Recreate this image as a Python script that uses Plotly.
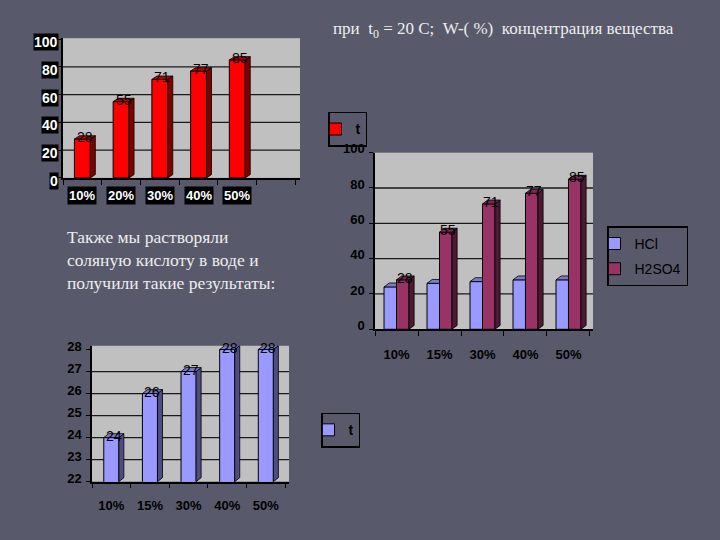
import plotly.graph_objects as go

BG = "#585A6C"
WALL = "#C0C0C0"

# ---------------- data ----------------
# Chart 1 (top left): temperature vs concentration
cats1 = ["10%", "20%", "30%", "40%", "50%"]
vals1 = [28, 55, 71, 77, 85]
yticks1 = [0, 20, 40, 60, 80, 100]

# Chart 2 (right): HCl vs H2SO4
cats2 = ["10%", "15%", "30%", "40%", "50%"]
hcl2 = [24, 26, 27, 28, 28]
h2so4_2 = [28, 55, 71, 77, 85]
yticks2 = [0, 20, 40, 60, 80, 100]

# Chart 3 (bottom): HCl
cats3 = ["10%", "15%", "30%", "40%", "50%"]
vals3 = [24, 26, 27, 28, 28]
yticks3 = [22, 23, 24, 25, 26, 27, 28]

title_text = "при\u00a0\u00a0t<sub>0</sub> = 20 С;\u00a0\u00a0W-( %)\u00a0\u00a0концентрация вещества"
para_text = "Также мы растворяли<br>соляную кислоту в воде и<br>получили такие результаты:"


def faces(vals, base, w, dx, dy, left_off, side=True, clip_top=False):
    sx, sy, tx, ty = [], [], [], []
    for i, v in enumerate(vals):
        xl = i + left_off
        xr = xl + w
        if side:
            sx += [xr, xr + dx, xr + dx, xr, xr, None]
            sy += [base, base + dy, v + dy, v, base, None]
        tr = xr if clip_top else xr + dx
        tx += [xl, xl + dx, tr, xr, xl, None]
        ty += [v, v + dy, v + dy, v, v, None]
    return sx, sy, tx, ty


def poly(x, y, color, xa, ya):
    return go.Scatter(x=x, y=y, fill="toself", fillcolor=color, mode="lines",
                      line=dict(color="black", width=0.8), hoverinfo="skip",
                      showlegend=False, xaxis=xa, yaxis=ya)


fig = go.Figure()
annotations = []
shapes = []

# ---------- Chart 1 ----------
w1, dx1, dy1 = 0.41, 0.13, 2.4
fig.add_trace(go.Bar(x=list(range(len(vals1))), y=vals1, width=w1, name="<b>t</b>",
                     marker=dict(color="#FF0000", line=dict(color="black", width=1)),
                     xaxis="x", yaxis="y", legend="legend"))
sx, sy, tx, ty = faces(vals1, 0, w1, dx1, dy1, -w1 / 2)
fig.add_trace(poly(sx, sy, "#800000", "x", "y"))
fig.add_trace(poly(tx, ty, "#C00000", "x", "y"))
for i, v in enumerate(vals1):
    annotations.append(dict(x=i + dx1 / 2, y=v + dy1 * 0.6, xref="x", yref="y", text=str(v),
                            showarrow=False, yanchor="middle",
                            font=dict(family="Arial", size=14, color="black")))
for t in yticks1:
    annotations.append(dict(x=59 / 720, y=t, xref="paper", yref="y", text="<b>%d</b>" % t,
                            showarrow=False, xanchor="right", yanchor="middle", yshift=-3,
                            bgcolor="black", borderpad=0,
                            font=dict(family="Arial", size=14, color="white")))
for i, c in enumerate(cats1):
    annotations.append(dict(x=i, y=1 - 190 / 540, xref="x", yref="paper", text="<b>%s</b>" % c,
                            showarrow=False, xanchor="center", yanchor="middle",
                            bgcolor="black", borderpad=1,
                            font=dict(family="Arial", size=13, color="white")))

# ---------- Chart 2 ----------
w2, dx2, dy2 = 0.29, 0.12, 2.2
fig.add_trace(go.Bar(x=list(range(len(hcl2))), y=hcl2, width=w2, offset=-w2, name="HCl",
                     marker=dict(color="#9999FF", line=dict(color="black", width=1)),
                     xaxis="x2", yaxis="y2", legend="legend2", legendgroup="a"))
fig.add_trace(go.Bar(x=list(range(len(h2so4_2))), y=h2so4_2, width=w2, offset=0, name="H2SO4",
                     marker=dict(color="#993366", line=dict(color="black", width=1)),
                     xaxis="x2", yaxis="y2", legend="legend2", legendgroup="b"))
_, _, tx, ty = faces(hcl2, 0, w2, dx2, dy2, -w2, side=False, clip_top=True)
fig.add_trace(poly(tx, ty, "#7A7ACC", "x2", "y2"))
sx, sy, tx, ty = faces(h2so4_2, 0, w2, dx2, dy2, 0)
fig.add_trace(poly(sx, sy, "#4D1A33", "x2", "y2"))
fig.add_trace(poly(tx, ty, "#7A2952", "x2", "y2"))
for i, v in enumerate(h2so4_2):
    annotations.append(dict(x=i + w2 / 2 + dx2 / 2, y=v + dy2 * 0.5, xref="x2", yref="y2",
                            text=str(v), showarrow=False, yanchor="middle",
                            font=dict(family="Arial", size=14, color="black")))

# ---------- Chart 3 ----------
w3, dx3, dy3 = 0.39, 0.13, 0.18
fig.add_trace(go.Bar(x=list(range(len(vals3))), y=vals3, width=w3, name="<b>t</b>",
                     marker=dict(color="#9999FF", line=dict(color="black", width=1)),
                     xaxis="x3", yaxis="y3", legend="legend3"))
sx, sy, tx, ty = faces(vals3, yticks3[0], w3, dx3, dy3, -w3 / 2)
fig.add_trace(poly(sx, sy, "#4D4D80", "x3", "y3"))
fig.add_trace(poly(tx, ty, "#7A7ACC", "x3", "y3"))
for i, v in enumerate(vals3):
    annotations.append(dict(x=i + dx3 / 2, y=v + dy3 * 0.3, xref="x3", yref="y3", text=str(v),
                            showarrow=False, yanchor="middle",
                            font=dict(family="Arial", size=14, color="black")))

# gridlines on the chart walls (interior values only)
for ax, ticks in (("", yticks1), ("2", yticks2), ("3", yticks3)):
    for t in ticks[1:-1]:
        shapes.append(dict(type="line", xref="x%s domain" % ax, yref="y%s" % ax,
                           x0=0, x1=1, y0=t, y1=t, layer="below",
                           line=dict(color="#1a1a1a", width=1.3)))

# text on the slide
annotations.append(dict(x=331 / 720, y=1 - 20 / 540, xref="paper", yref="paper", text=title_text,
                        showarrow=False, xanchor="left", yanchor="middle",
                        font=dict(family="Liberation Serif", size=17, color="#EEEEEE")))
annotations.append(dict(x=65 / 720, y=1 - 221 / 540, xref="paper", yref="paper", text=para_text,
                        showarrow=False, xanchor="left", yanchor="top", align="left",
                        font=dict(family="Liberation Serif", size=17.5, color="#EEEEEE")))

axis_common = dict(showline=True, linecolor="black", linewidth=1.5, zeroline=False,
                   showgrid=False, fixedrange=True)
tickfont = dict(family="Arial", size=13, color="black")


def xaxis_cfg(domain, rng, anchor, n, labels=None, standoff=10):
    d = dict(axis_common, domain=domain, range=rng, anchor=anchor,
             tickmode="array", tickvals=list(range(n)), ticks="",
             minor=dict(tickmode="array", tickvals=[k - 0.5 for k in range(n + 2)],
                        ticks="outside", ticklen=5, tickcolor="black", tickwidth=1.3,
                        showgrid=False))
    if labels is None:
        d["showticklabels"] = False
    else:
        d.update(ticktext=["<b>%s</b>" % c for c in labels], tickfont=tickfont,
                 ticklabelstandoff=standoff)
    return d


def yaxis_cfg(domain, rng, anchor, ticks, labels=True, shift=-3):
    d = dict(axis_common, domain=domain, range=rng, anchor=anchor, tickmode="array",
             tickvals=ticks, ticks="outside", ticklen=4, tickcolor="black", tickwidth=1.3)
    if labels:
        d.update(ticktext=["<b>%d</b>" % t for t in ticks], tickfont=tickfont,
                 ticklabelshift=shift, ticklabelstandoff=2)
    else:
        d["showticklabels"] = False
    return d


legend_common = dict(bgcolor="rgba(0,0,0,0)", bordercolor="black", borderwidth=1.5,
                     xanchor="left", yanchor="top", itemwidth=30, indentation=-14,
                     font=dict(family="Arial", size=14, color="black"))

fig.update_layout(
    width=720, height=540, margin=dict(l=0, r=0, t=0, b=0),
    paper_bgcolor=BG, plot_bgcolor=WALL, barmode="overlay",
    xaxis=xaxis_cfg([63 / 720, 300 / 720], [-0.5, 5.62], "y", 6),
    yaxis=yaxis_cfg([1 - 172 / 540, 1 - 28 / 540], [0, 100.7], "x", yticks1, labels=False),
    xaxis2=xaxis_cfg([375 / 720, 593 / 720], [-0.5, 4.57], "y2", 5, cats2, standoff=12),
    yaxis2=yaxis_cfg([1 - 328 / 540, 1 - 146 / 540], [0, 100], "x2", yticks2, shift=-4),
    xaxis3=xaxis_cfg([92 / 720, 289 / 720], [-0.5, 4.60], "y3", 5, cats3, standoff=11),
    yaxis3=yaxis_cfg([1 - 485 / 540, 1 - 345 / 540], [22, 28.17], "x3", yticks3, shift=-3),
    legend=dict(legend_common, x=328 / 720, y=1 - 104 / 540),
    legend2=dict(legend_common, x=607 / 720, y=1 - 222 / 540, tracegroupgap=4),
    legend3=dict(legend_common, x=321 / 720, y=1 - 414 / 540),
    annotations=annotations, shapes=shapes, showlegend=True,
)

fig.write_html("out.html", config={"displayModeBar": False},
               post_script="document.body.style.margin='0px';document.body.style.overflow='hidden';")
